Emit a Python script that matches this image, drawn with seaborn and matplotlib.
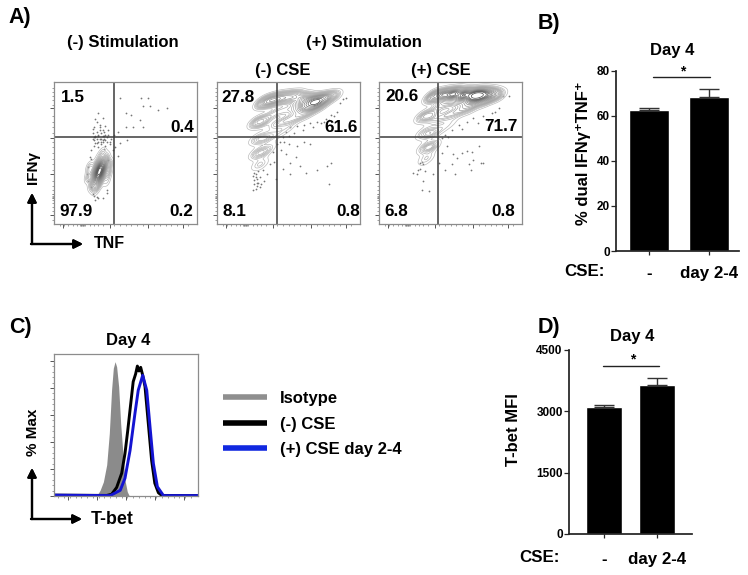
import seaborn as sns
import matplotlib.pyplot as plt
from matplotlib.lines import Line2D
import numpy as np

FIG_W, FIG_H = 748, 575

# Flow plots: dense parts of each population (x, y, weight) and the stray events
ridge1_x = [34, 37, 31, 36, 33, 30, 35, 32, 29, 34, 31, 28, 33, 30, 27, 31, 28, 29, 39, 38, 25, 24, 26, 37]
ridge1_y = [50, 48, 47, 44, 43, 42, 40, 39, 38, 36, 35, 34, 32, 31, 30, 27, 26, 23, 42, 36, 40, 33, 27, 30]
ridge1_w = [2, 1, 1, 3, 4, 2, 4, 6, 3, 4, 6, 3, 3, 4, 1, 2, 2, 1, 2.5, 2.5, 2.5, 2.5, 1.5, 1.5]
dots1_x = [46, 61, 66, 62.5, 67, 73, 79, 50, 54, 60, 62.5, 55.5, 50, 45, 51, 46, 45, 43,
           30, 32, 34, 28, 27, 36, 29, 31, 33, 35, 38, 37, 40, 28, 30, 33, 36, 39, 34, 31,
           28, 26, 25, 24, 27, 30, 37, 38, 29, 41, 42, 35, 32, 27, 29, 33, 31, 34,
           30, 32, 35, 37, 29, 31, 34, 36, 28, 33, 30, 35, 38, 32, 27, 39, 31, 34, 29, 36,
           26, 28, 31, 24, 23, 26, 34, 37]
dots1_y = [89, 89, 89, 83, 83, 80, 82, 78, 77, 73, 68, 68, 68, 65, 59, 57, 48, 54,
           72, 70, 66, 68, 64, 69, 61, 63, 60, 62, 63, 58, 60, 59, 57, 56, 55, 56, 75, 78,
           55, 52, 47, 40, 21, 19, 22, 45, 17, 52, 63, 53, 66, 60, 74, 64, 54, 58,
           60, 60, 60, 61, 62, 62, 62, 63, 61, 58, 65, 65, 66, 68, 67, 58, 58, 59, 57, 59,
           46, 20, 18, 30, 35, 26, 18, 24]

ridge2_x = [33, 38, 42, 48, 54, 60, 65, 69, 72, 77, 82,
            40, 47, 54, 60, 66, 72, 40, 46, 52, 58, 64, 44, 50, 38, 37,
            28, 32, 28, 33, 28, 32, 29, 31, 29]
ridge2_y = [86, 87, 88, 89, 89.5, 88, 86, 86, 86.5, 89, 90,
            78, 80, 81, 82, 82, 83, 70, 72, 74, 76, 78, 64, 68, 62, 54,
            72, 72, 60, 60, 50, 50, 42, 42, 34]
ridge2_w = [5, 5, 5, 5, 5, 6, 10, 10, 8, 4, 2,
            2, 2, 2, 3, 3, 2, 1.5, 2, 2, 2, 1.5, 1, 1, 1, 1,
            3, 3, 2, 2, 2, 2, 1, 1, 0.5]
dots2_x = [47, 50, 56, 61, 65, 48, 51, 55, 58, 62, 51, 70, 77, 80, 78, 45, 46, 41, 40, 39,
           26, 25, 27, 28, 30, 33, 35, 37, 84, 82, 78, 75, 70, 65, 61, 56, 51, 48, 80, 76,
           73, 67, 60, 54, 46, 50, 44, 42, 86, 88, 90, 27, 28, 29, 26, 28, 27, 29, 30, 26,
           31, 25, 32]
dots2_y = [58, 56, 55, 58, 56, 49, 43, 47, 41, 36, 35, 38, 41, 43, 28, 52, 39, 32, 44, 51,
           28, 24, 33, 29, 26, 30, 35, 42, 79, 76, 73, 72, 72, 71, 70, 69, 68, 65, 77, 74,
           71, 68, 66, 64, 61, 62, 58, 56, 85, 88, 89, 35, 32, 37, 31, 27, 25, 29, 33, 36,
           28, 34, 38]

ridge3_x = [38, 45, 52, 59, 66, 71, 76, 80, 84,
            42, 48, 55, 62, 68, 74, 40, 46, 52, 58, 64, 44, 50, 38, 38,
            31, 36, 31, 36, 32, 36, 32, 34, 31]
ridge3_y = [90, 91, 91.5, 91, 91, 91, 91, 90.5, 90,
            83, 84, 85, 85, 86, 86, 74, 76, 78, 80, 81, 67, 71, 64, 55,
            76, 76, 64, 64, 54, 54, 46, 46, 38]
ridge3_w = [6, 8, 10, 10, 10, 9, 6, 4, 2,
            2, 2, 2, 3, 3, 2, 1.5, 2, 2, 2, 1.5, 1, 1, 1, 1,
            3, 3, 2, 2, 2, 2, 1, 1, 0.5]
dots3_x = [47.5, 44, 52, 54.6, 58, 61.6, 65, 70, 66, 71, 73, 63, 64, 51, 46, 53, 42, 38, 35,
           30, 31, 24, 27.6, 29, 30, 31, 29, 32, 26.5, 84, 79, 73, 66, 61.6, 56, 51, 46,
           44, 87, 91, 81, 76, 69, 58, 48]
dots3_y = [55, 50, 49, 46.5, 50, 51.6, 51, 54.7, 45, 43, 43, 42, 38, 42, 38, 35, 43, 35, 23,
           24, 30, 36, 38, 43, 44, 42, 39, 37, 35, 82, 78, 76, 75, 72, 70, 66, 63,
           60.5, 90, 90, 79, 73, 71, 67, 61]

# Quadrant gates and percentages, one entry per flow plot
gate_x = [42, 42, 41]
gate_y = [61, 61, 61]
quad_labels = [['1.5', '0.4', '97.9', '0.2'],
               ['27.8', '61.6', '8.1', '0.8'],
               ['20.6', '71.7', '6.8', '0.8']]
quad_x = [[13, 90, 15.5, 89], [15, 87, 12.5, 91.5], [16, 85, 12, 87]]
quad_y = [[89, 68, 9, 9], [89, 68, 8.5, 8.5], [90, 69, 8.5, 8.5]]

# Histogram curves of panel C
iso_x = [0, 29.6, 32, 34.3, 36.6, 38.4, 40, 41.2, 42.4, 43.5, 44.9, 46.3, 47.7, 49.3, 50.9, 52.3, 100]
iso_y = [0, 0, 4, 10, 22, 44, 75, 90, 94.6, 91, 77, 51, 32, 11, 3, 0, 0]
neg_x = [0, 36.6, 40, 43.5, 47, 49.3, 51.2, 52.8, 55, 56.7, 57.9, 59, 60.2, 61.6, 63.2, 65.5,
         67.8, 70, 72.5, 74.8, 100]
neg_y = [0.6, 0.4, 1.2, 6, 16, 30, 46, 60.6, 80.5, 86, 91.5, 88, 90.6, 85, 77, 51, 25, 9, 2.3, 0.4, 0.3]
pos_x = [0, 39, 46, 49.3, 52.8, 56.2, 58.5, 61.6, 64.4, 66.7, 69, 71.8, 76, 100]
pos_y = [0.6, 0.3, 4, 12.5, 32, 58, 74.5, 85, 74.5, 48.5, 23, 6.5, 0.3, 0.3]

# Bar panels
cse_groups = ['-', 'day 2-4']
dual_mean = [62.5, 68.5]
dual_err = [0.9, 3.5]
mfi_mean = [3100, 3650]
mfi_err = [50, 170]

sns.set_theme(style="ticks")
plt.rcParams['font.family'] = ['Liberation Sans', 'DejaVu Sans']
plt.rcParams['font.weight'] = 'bold'
plt.rcParams['axes.labelweight'] = 'bold'
plt.rcParams['axes.titleweight'] = 'bold'

fig = plt.figure(figsize=(FIG_W / 100, FIG_H / 100), dpi=100)
contour_cmap = sns.blend_palette(['#bcbcbc', '#808080', '#2e2e2e'], as_cmap=True)


def px_axes(left, top, right, bottom):
    return fig.add_axes([left / FIG_W, 1 - bottom / FIG_H, (right - left) / FIG_W, (bottom - top) / FIG_H])


def px_text(x, y, s, **kw):
    kw.setdefault('ha', 'center')
    kw.setdefault('va', 'center')
    kw.setdefault('fontweight', 'bold')
    kw.setdefault('color', 'black')
    fig.text(x / FIG_W, 1 - y / FIG_H, s, **kw)


def px_arrow(x0, y0, x1, y1):
    fig.add_artist(plt.annotate('', xy=(x1 / FIG_W, 1 - y1 / FIG_H), xytext=(x0 / FIG_W, 1 - y0 / FIG_H),
                                xycoords='figure fraction', textcoords='figure fraction',
                                arrowprops=dict(arrowstyle='-|>', color='black', lw=1.6,
                                                shrinkA=0, shrinkB=0, mutation_scale=13)))


def log_ticks(ax):
    # biex style axis: a few long ticks with many short ones packed in between
    major = [6, 39, 66, 90]
    minor = np.concatenate([np.arange(4, 36, 3.0), [18.5, 19, 19.5, 20, 20.5, 21], np.arange(42, 64, 4.0), np.arange(70, 98, 4.0)])
    ax.set_xticks(major)
    ax.set_xticks(minor, minor=True)
    major = [6, 35, 60.5, 81.7]
    minor = np.concatenate([np.arange(3, 33, 3.0), [17, 18, 19, 20, 21], np.arange(38, 60, 4.0), np.arange(64, 80, 4.0), np.arange(84, 99, 3.0)])
    ax.set_yticks(major)
    ax.set_yticks(minor, minor=True)
    ax.tick_params(which='major', length=3, width=0.7, color='#555555', labelleft=False, labelbottom=False)
    ax.tick_params(which='minor', length=1.5, width=0.5, color='#777777')


def flow_plot(box, rx, ry, rw, dx, dy, idx, bw):
    ax = px_axes(*box)
    sns.kdeplot(x=rx, y=ry, weights=rw, levels=20, thresh=0.04, bw_adjust=bw,
                cmap=contour_cmap, linewidths=0.5, ax=ax)
    sns.scatterplot(x=dx, y=dy, s=1.6, color='#777777', linewidth=0, ax=ax)
    ax.axvline(gate_x[idx], color='#3c3c3c', lw=1.1)
    ax.axhline(gate_y[idx], color='#3c3c3c', lw=1.1)
    for lab, tx, ty in zip(quad_labels[idx], quad_x[idx], quad_y[idx]):
        ax.text(tx, ty, lab, ha='center', va='center', fontsize=12.3, fontweight='bold', color='black')
    ax.set_xlim(0, 100)
    ax.set_ylim(0, 100)
    ax.set_xlabel('')
    ax.set_ylabel('')
    for sp in ax.spines.values():
        sp.set_visible(True)
        sp.set_color('#8c8c8c')
        sp.set_linewidth(0.9)
    log_ticks(ax)
    return ax


def bar_panel(box, means, errs, ylim, yticks, xlim, sig_x, sig_y, star_x, star_y, ylabel, pad):
    ax = px_axes(*box)
    sns.barplot(x=cse_groups, y=means, color='black', saturation=1, width=0.68, errorbar=None, ax=ax)
    ax.errorbar([0, 1], means, yerr=[[0, 0], errs], fmt='none', ecolor='#333333',
                elinewidth=1, capsize=7.5, capthick=1)
    ax.plot(sig_x, [sig_y, sig_y], color='#222222', lw=1)
    ax.text(star_x, star_y, '*', ha='center', va='center', fontsize=10, fontweight='bold', color='black')
    ax.set_xlim(*xlim)
    ax.set_ylim(*ylim)
    ax.set_yticks(yticks)
    ax.set_xticks([0, 1])
    ax.set_xticklabels(cse_groups, fontsize=12.2, fontweight='bold', color='black')
    ax.set_ylabel(ylabel, fontsize=12, fontweight='bold', color='black')
    ax.tick_params(axis='y', labelsize=8.5, length=3.5, width=0.9, pad=1, labelcolor='black')
    ax.tick_params(axis='x', length=3, width=0.9, pad=pad)
    sns.despine(ax=ax)
    ax.spines['left'].set_color('#222222')
    ax.spines['bottom'].set_color('#222222')
    return ax


# Panel A
flow_plot((54, 82, 197, 224), ridge1_x, ridge1_y, ridge1_w, dots1_x, dots1_y, 0, 0.8)
flow_plot((217, 82, 360, 224), ridge2_x, ridge2_y, ridge2_w, dots2_x, dots2_y, 1, 0.43)
flow_plot((379, 82, 522, 224), ridge3_x, ridge3_y, ridge3_w, dots3_x, dots3_y, 2, 0.43)

px_text(20, 18, 'A)', fontsize=15.5)
px_text(123, 43, '(-) Stimulation', fontsize=12)
px_text(364, 43, '(+) Stimulation', fontsize=12)
px_text(283, 70, '(-) CSE', fontsize=12)
px_text(441, 70, '(+) CSE', fontsize=12)
px_text(33, 167, 'IFNγ', fontsize=11, rotation=90)
px_text(109, 243, 'TNF', fontsize=11.5)
px_arrow(32, 244, 32, 193)
px_arrow(31, 244, 83, 244)

# Panel B
ax_b = bar_panel((616, 70.7, 739, 251), dual_mean, dual_err, (0, 80), [0, 20, 40, 60, 80],
                 (-0.55, 1.5), [0.07, 1.02], 77.2, 0.57, 79.5, '% dual IFNγ⁺TNF⁺', 8)
ax_b.yaxis.set_label_coords(-0.2, 0.54)
px_text(549, 23, 'B)', fontsize=15.5)
px_text(672, 50, 'Day 4', fontsize=12)
px_text(584, 272, 'CSE:', fontsize=12.2)

# Panel C
ax_c = px_axes(54, 354, 198, 496)
ax_c.fill_between(iso_x, iso_y, color='#8b8b8b', lw=0)
sns.lineplot(x=neg_x, y=neg_y, color='black', lw=2.1, sort=False, ax=ax_c)
sns.lineplot(x=pos_x, y=pos_y, color='#1414d2', lw=2.1, sort=False, ax=ax_c)
ax_c.set_xlim(0, 100)
ax_c.set_ylim(0, 100)
for sp in ax_c.spines.values():
    sp.set_visible(True)
    sp.set_color('#8c8c8c')
    sp.set_linewidth(0.9)
ax_c.set_xticks([10, 30, 50, 70, 90])
ax_c.set_xticks(np.arange(3, 98, 4.0), minor=True)
ax_c.set_yticks([0, 19, 38, 57, 76, 95])
ax_c.set_yticks(np.arange(0, 98, 3.8), minor=True)
ax_c.tick_params(which='major', length=3, width=0.7, color='#555555', labelleft=False, labelbottom=False)
ax_c.tick_params(which='minor', length=1.5, width=0.5, color='#777777')

px_text(20, 327, 'C)', fontsize=15.5)
px_text(128, 340, 'Day 4', fontsize=12)
px_text(33, 432, '% Max', fontsize=11, rotation=90)
px_text(112.5, 519, 'T-bet', fontsize=12.8)
px_arrow(32, 519, 32, 468)
px_arrow(31, 519, 82, 519)

handles = [Line2D([], [], color='#8f8f8f', lw=4, solid_capstyle='butt'),
           Line2D([], [], color='black', lw=4, solid_capstyle='butt'),
           Line2D([], [], color='#1028e0', lw=4, solid_capstyle='butt')]
fig.legend(handles, ['Isotype', '(-) CSE', '(+) CSE day 2-4'], loc='center left',
           bbox_to_anchor=(223 / FIG_W, 1 - 424 / FIG_H), frameon=False, fontsize=12,
           handlelength=2.64, handletextpad=0.78, labelspacing=0.64, labelcolor='black',
           borderpad=0, borderaxespad=0)

# Panel D
ax_d = bar_panel((569, 350, 692, 534), mfi_mean, mfi_err, (0, 4500), [0, 1500, 3000, 4500],
                 (-0.66, 1.66), [-0.02, 1.04], 4109, 0.55, 4260, 'T-bet MFI', 10)
ax_d.yaxis.set_label_coords(-0.39, 0.565)
px_text(549, 327, 'D)', fontsize=15.5)
px_text(632, 337, 'Day 4', fontsize=12)
px_text(539, 558, 'CSE:', fontsize=12.2)

plt.savefig('out.png', dpi=100)
plt.close()
